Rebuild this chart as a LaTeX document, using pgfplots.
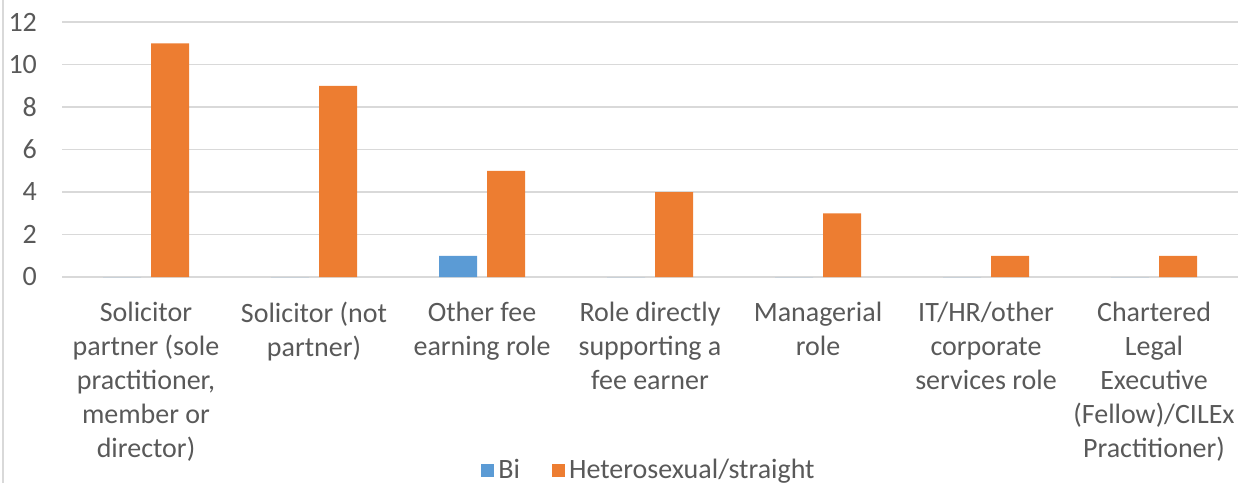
\documentclass[border=0pt]{standalone}
\usepackage{pgfplots}
\pgfplotsset{compat=1.18}
\usepackage{fontspec}
\setmainfont{Carlito}
\definecolor{cblue}{HTML}{5B9BD5}
\definecolor{corange}{HTML}{ED7D31}
\definecolor{cgrid}{HTML}{D9D9D9}
\definecolor{ctext}{HTML}{595959}
\begin{document}
\begin{tikzpicture}
\begin{axis}[
  name=ax,
  at={(0,0)}, anchor=south west,
  scale only axis,
  width=588pt, height=127.5pt,
  ybar=5pt, bar width=19pt,
  xmin=-0.5, xmax=6.5,
  ymin=0, ymax=12,
  ytick={0,2,...,12},
  xtick={0,...,6},
  xticklabels={
    {Solicitor\\partner (sole\\practitioner,\\member or\\director)},
    {Solicitor (not\\partner)},
    {Other fee\\earning role},
    {Role directly\\supporting a\\fee earner},
    {Managerial\\role},
    {IT/HR/other\\corporate\\services role},
    {Chartered\\Legal\\Executive\\(Fellow)/CILEx\\Practitioner)}},
  x tick label style={align=center, font=\fontsize{14}{17}\selectfont, text=ctext, yshift=-9pt},
  y tick label style={font=\fontsize{14}{17}\selectfont, text=ctext, xshift=-9pt},
  /pgf/number format/assume math mode=true,
  ymajorgrids, grid style={cgrid, line width=0.8pt},
  axis line style={draw=none},
  major tick length=0pt,
  legend style={at={(0.5,0)}, anchor=center, yshift=-96.5pt, draw=none,
    legend columns=2, font=\fontsize{14}{17}\selectfont, text=ctext,
    /tikz/every even column/.append style={column sep=14pt}},
  legend image code/.code={\fill[#1] (0pt,-3.25pt) rectangle (6.5pt,3.25pt);},
]
\addplot[fill=cblue, draw=none] coordinates {(0,0) (1,0) (2,1) (3,0) (4,0) (5,0) (6,0)};
\addplot[fill=corange, draw=none] coordinates {(0,11) (1,9) (2,5) (3,4) (4,3) (5,1) (6,1)};
\legend{Bi, Heterosexual/straight}
\end{axis}
\pgfresetboundingbox
\useasboundingbox ([xshift=-31pt, yshift=-103pt]ax.south west) rectangle ([xshift=1pt, yshift=11pt]ax.north east);
\draw[cgrid, line width=0.8pt] ([xshift=-29.5pt, yshift=-103pt]ax.south west) -- ([xshift=-29.5pt, yshift=11pt]ax.north west);
\end{tikzpicture}
\end{document}
